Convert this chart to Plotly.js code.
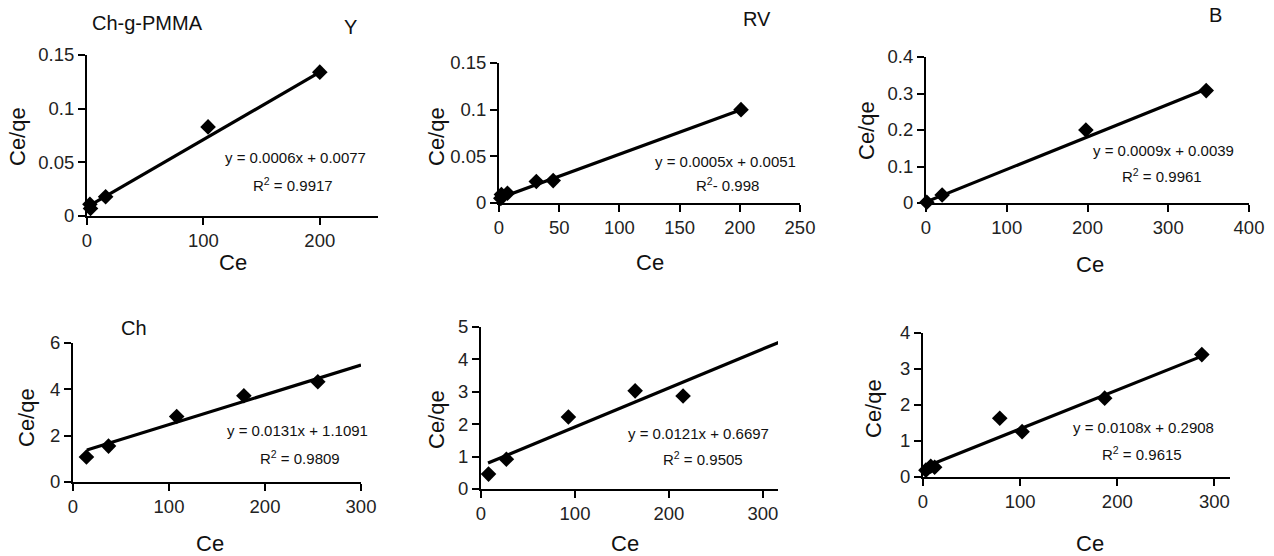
<!DOCTYPE html>
<html><head><meta charset="utf-8">
<script src="https://cdn.plot.ly/plotly-3.0.1.min.js"></script>
<style>html,body{margin:0;padding:0;background:#fff}#chart{width:1274px;height:556px}</style>
</head><body><div id="chart"></div>
<script>
// Panel data (Ce, Ce/qe)
const p1X = [2.5, 3, 16, 104, 200];
const p1Y = [0.011, 0.007, 0.018, 0.083, 0.134];
const p1FitX = [1, 200];
const p1FitY = [0.009, 0.134];

const p2X = [1.5, 2, 7, 31, 45, 201];
const p2Y = [0.005, 0.009, 0.0105, 0.023, 0.024, 0.1];
const p2FitX = [0, 201];
const p2FitY = [0.005, 0.1];

const p3X = [1, 20, 198, 347];
const p3Y = [0.002, 0.022, 0.2, 0.308];
const p3FitX = [0, 348];
const p3FitY = [0.003, 0.313];

const p4X = [14, 37, 108, 178, 255];
const p4Y = [1.08, 1.55, 2.83, 3.72, 4.33];
const p4FitX = [14.5, 300];
const p4FitY = [1.38, 5.05];

const p5X = [8, 27, 93, 164, 215];
const p5Y = [0.46, 0.92, 2.22, 3.03, 2.87];
const p5FitX = [7.5, 318];
const p5FitY = [0.8, 4.54];

const p6X = [3, 8, 12, 79, 102, 187, 287];
const p6Y = [0.19, 0.3, 0.27, 1.63, 1.26, 2.19, 3.4];
const p6FitX = [2, 293];
const p6FitY = [0.28, 3.42];

const equations = ["y = 0.0006x + 0.0077", "y = 0.0005x + 0.0051", "y = 0.0009x + 0.0039",
                   "y = 0.0131x + 1.1091", "y = 0.0121x + 0.6697", "y = 0.0108x + 0.2908"];
const rsq = ["R<sup>2</sup> = 0.9917", "R<sup>2</sup>- 0.998", "R<sup>2</sup> = 0.9961",
             "R<sup>2</sup> = 0.9809", "R<sup>2</sup> = 0.9505", "R<sup>2</sup> = 0.9615"];
const panelLabels = ["Ch-g-PMMA", "Y", "RV", "B", "Ch"];

const W = 1274, H = 556;
const FONT = "Liberation Sans, Arial, sans-serif";
const px = v => v / W;
const py = v => 1 - v / H;

// pixel boxes [left, right, top, bottom]
const boxes = [
  [87, 378, 55, 216],
  [499, 800, 63, 203],
  [926, 1249, 57, 203],
  [73, 361, 343, 482],
  [481, 778, 327, 489],
  [923, 1230, 333, 477]
];
const xr = [[0, 250], [0, 250], [0, 400], [0, 300], [0, 316], [0, 316]];
const xd = [100, 50, 100, 100, 100, 100];
const yr = [[0, 0.15], [0, 0.15], [0, 0.4], [0, 6], [0, 5], [0, 4]];
const yd = [0.05, 0.05, 0.1, 2, 1, 1];

const sets = [[p1X,p1Y,p1FitX,p1FitY],[p2X,p2Y,p2FitX,p2FitY],[p3X,p3Y,p3FitX,p3FitY],
              [p4X,p4Y,p4FitX,p4FitY],[p5X,p5Y,p5FitX,p5FitY],[p6X,p6Y,p6FitX,p6FitY]];

const data = [];
const layout = {
  width: W, height: H, margin: {l:0, r:0, t:0, b:0},
  paper_bgcolor: "#fff", plot_bgcolor: "rgba(0,0,0,0)",
  showlegend: false, font: {family: FONT, color: "#111"},
  annotations: []
};

sets.forEach((s, i) => {
  const n = i + 1;
  const xa = n === 1 ? "x" : "x" + n, ya = n === 1 ? "y" : "y" + n;
  data.push({x: s[2], y: s[3], xaxis: xa, yaxis: ya, mode: "lines", type: "scatter",
             line: {color: "#000", width: 3.2}, hoverinfo: "skip", cliponaxis: false});
  data.push({x: s[0], y: s[1], xaxis: xa, yaxis: ya, mode: "markers", type: "scatter",
             marker: {symbol: "diamond", size: 12, color: "#000"}, cliponaxis: false});
  const b = boxes[i];
  const axCommon = {showgrid: false, zeroline: false, showline: true, linecolor: "#000", linewidth: 2,
                    ticks: "outside", ticklen: 7, tickwidth: 2, tickcolor: "#000",
                    tickfont: {family: FONT, size: 18.5, color: "#222"}, fixedrange: true};
  layout["xaxis" + (n === 1 ? "" : n)] = Object.assign({}, axCommon, {
    domain: [px(b[0]), px(b[1])], range: xr[i], dtick: xd[i], tick0: 0, anchor: ya});
  layout["yaxis" + (n === 1 ? "" : n)] = Object.assign({}, axCommon, {
    domain: [py(b[3]), py(b[2])], range: yr[i], dtick: yd[i], tick0: 0, anchor: xa});
});

const ann = (x, y, text, size, extra) => layout.annotations.push(Object.assign({
  xref: "paper", yref: "paper", x: px(x), y: py(y), text: text, showarrow: false,
  xanchor: "center", yanchor: "middle", font: {family: FONT, size: size, color: "#111"}}, extra || {}));

// axis titles
const ceX = [[233, 263], [650, 263], [1090, 265], [210, 543], [625, 543], [1090, 543]];
ceX.forEach(p => ann(p[0], p[1], "Ce", 22));
const cqY = [[17, 137], [436, 137], [866, 131], [26, 417], [436, 420], [873, 409]];
cqY.forEach(p => ann(p[0], p[1], "Ce/qe", 22, {textangle: -90}));

// equations
const eqPos = [[295, 157], [725, 162], [1163, 150], [297, 430], [698, 433], [1143, 427]];
const rPos = [[293, 185], [727, 185], [1162, 175], [300, 457], [703, 458], [1142, 453]];
eqPos.forEach((p, i) => ann(p[0], p[1], equations[i], 15));
rPos.forEach((p, i) => ann(p[0], p[1], rsq[i], 15));

// panel labels
ann(147, 23, panelLabels[0], 20);
ann(350, 27, panelLabels[1], 20);
ann(757, 19, panelLabels[2], 20);
ann(1215, 15, panelLabels[3], 20);
ann(134, 328, panelLabels[4], 20);

Plotly.newPlot("chart", data, layout, {displayModeBar: false, staticPlot: true});
</script></body></html>
